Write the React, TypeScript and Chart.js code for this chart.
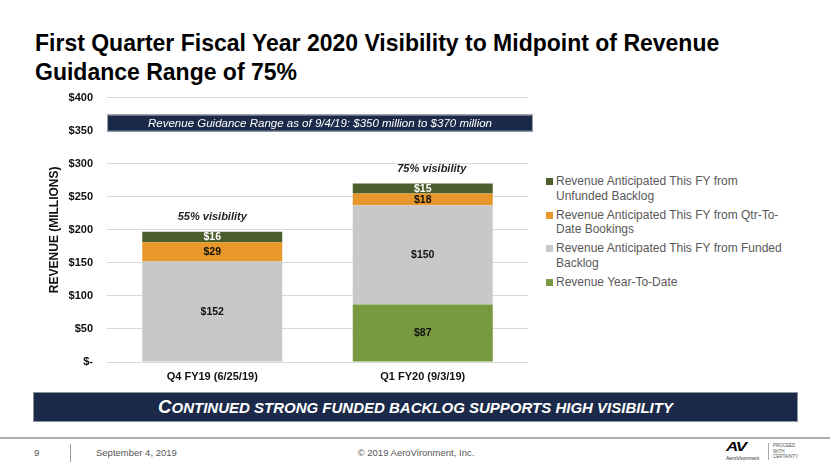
import React, { useEffect, useRef } from "react";
import { Chart, registerables } from "chart.js";

Chart.register(...registerables);

// ---------- data ----------
const categories = ["Q4 FY19 (6/25/19)", "Q1 FY20 (9/3/19)"];
const seriesNames = [
  "Revenue Year-To-Date",
  "Revenue Anticipated This FY from Funded Backlog",
  "Revenue Anticipated This FY from Qtr-To-Date Bookings",
  "Revenue Anticipated This FY from Unfunded Backlog",
];
const revenueYTD = [0, 87];
const fundedBacklog = [152, 150];
const qtrBookings = [29, 18];
const unfundedBacklog = [16, 15];
const seriesColors = ["#77993F", "#C8C8C8", "#E8972A", "#4B5E2C"];
const labelColors = ["#111111", "#111111", "#111111", "#FFFFFF"];
const visibilityLabels = ["55% visibility", "75% visibility"];
const yTickValues = [0, 50, 100, 150, 200, 250, 300, 350, 400];
const yTickLabels = ["$-", "$50", "$100", "$150", "$200", "$250", "$300", "$350", "$400"];
const yAxisTitle = "REVENUE (MILLIONS)";
const guidanceText = "Revenue Guidance Range as of 9/4/19: $350 million to $370 million";
const titleLines = ["First Quarter Fiscal Year 2020 Visibility to Midpoint of Revenue", "Guidance Range of 75%"];
const bannerText = "Continued strong funded backlog supports high visibility";
const footerPage = "9";
const footerDate = "September 4, 2019";
const footerCopyright = "© 2019 AeroVironment, Inc.";

const FONT = "'Liberation Sans', Arial, Helvetica, sans-serif";

const overlayPlugin = {
  id: "overlay",
  afterDatasetsDraw(chart: any) {
    const ctx = chart.ctx;
    const area = chart.chartArea;
    ctx.save();
    // guidance banner
    const bx = area.left;
    const bw = area.right + 5 - area.left;
    const by = area.top + 17;
    const bh = 17;
    ctx.fillStyle = "#1B2A48";
    ctx.fillRect(bx, by, bw, bh);
    ctx.strokeStyle = "#9aa0aa";
    ctx.lineWidth = 1;
    ctx.strokeRect(bx + 0.5, by + 0.5, bw - 1, bh - 1);
    ctx.fillStyle = "#FFFFFF";
    ctx.font = `italic 11.5px ${FONT}`;
    ctx.textAlign = "center";
    ctx.textBaseline = "middle";
    ctx.fillText(guidanceText, bx + bw / 2, by + bh / 2 + 0.5);

    // segment labels
    ctx.font = `bold 10.5px ${FONT}`;
    chart.data.datasets.forEach((ds: any, di: number) => {
      const meta = chart.getDatasetMeta(di);
      meta.data.forEach((el: any, i: number) => {
        const v = ds.data[i];
        if (!v) return;
        const p = el.getProps(["x", "y", "base"], true);
        ctx.fillStyle = labelColors[di];
        ctx.fillText("$" + v, p.x, (p.y + p.base) / 2 + 0.5);
      });
    });

    // visibility annotations above each stack
    const topMeta = chart.getDatasetMeta(chart.data.datasets.length - 1);
    ctx.font = `italic bold 11px ${FONT}`;
    ctx.fillStyle = "#222222";
    topMeta.data.forEach((el: any, i: number) => {
      const p = el.getProps(["x", "y"], true);
      ctx.fillText(visibilityLabels[i], p.x + (i === 1 ? 9 : 0), p.y - 15);
    });
    ctx.restore();
  },
};

function BarChart() {
  const ref = useRef<HTMLCanvasElement | null>(null);
  useEffect(() => {
    if (!ref.current) return;
    const seriesData = [revenueYTD, fundedBacklog, qtrBookings, unfundedBacklog];
    const chart = new Chart(ref.current, {
      type: "bar",
      data: {
        labels: categories,
        datasets: seriesNames.map((name, i) => ({
          label: name,
          data: seriesData[i],
          backgroundColor: seriesColors[i],
          borderWidth: 0,
          barPercentage: 0.665,
          categoryPercentage: 1,
        })),
      },
      options: {
        animation: false,
        responsive: false,
        devicePixelRatio: 1,
        layout: { padding: { top: 0, right: 17, bottom: 0, left: 0 } },
        plugins: {
          legend: { display: false },
          tooltip: { enabled: false },
        },
        scales: {
          x: {
            stacked: true,
            grid: { display: false, drawTicks: false },
            border: { display: false },
            ticks: {
              color: "#111111",
              font: { family: FONT, size: 11, weight: "bold" },
              padding: 8,
            },
            afterFit: (s: any) => {
              s.height = 25;
            },
          },
          y: {
            stacked: true,
            min: 0,
            max: 400,
            afterBuildTicks: (s: any) => {
              s.ticks = yTickValues.map((v) => ({ value: v }));
            },
            grid: { color: "#D9D9D9", lineWidth: 1, drawTicks: false },
            border: { display: false },
            ticks: {
              color: "#111111",
              font: { family: FONT, size: 11, weight: "bold" },
              padding: 14,
              callback: (_v: any, idx: number) => yTickLabels[idx],
            },
            title: {
              display: true,
              text: yAxisTitle,
              color: "#111111",
              font: { family: FONT, size: 12, weight: "bold" },
              padding: { top: 47, bottom: 0 },
            },
            afterFit: (s: any) => {
              s.width = 107;
            },
          },
        },
      },
      plugins: [overlayPlugin],
    });
    return () => chart.destroy();
  }, []);
  return (
    <canvas
      ref={ref}
      width={545}
      height={310}
      style={{ position: "absolute", left: 0, top: 77, width: 545, height: 310 }}
    />
  );
}

function Legend() {
  const order = [3, 2, 1, 0];
  return (
    <div style={{ position: "absolute", left: 546, top: 174, fontFamily: FONT }}>
      {order.map((i) => (
        <div key={i} style={{ display: "flex", alignItems: "flex-start", marginBottom: 4.7 }}>
          <div
            style={{
              width: 7,
              height: 7,
              background: seriesColors[i],
              marginTop: 4,
              marginRight: 3,
              flex: "none",
            }}
          />
          <div style={{ width: 236, fontSize: 12, lineHeight: "14.5px", color: "#595959" }}>
            {seriesNames[i]}
          </div>
        </div>
      ))}
    </div>
  );
}

function SmallCaps({ text }: { text: string }) {
  return (
    <span style={{ whiteSpace: "nowrap" }}>
      <span style={{ fontSize: 18.5 }}>{text.charAt(0).toUpperCase()}</span>
      <span style={{ fontSize: 15 }}>{text.slice(1).toUpperCase()}</span>
    </span>
  );
}

export default function App() {
  useEffect(() => {
    document.body.style.margin = "0";
  }, []);
  return (
    <div
      style={{
        position: "absolute",
        left: 0,
        top: 0,
        width: 830,
        height: 467,
        background: "#FFFFFF",
        overflow: "hidden",
        fontFamily: FONT,
      }}
    >
      <div
        style={{
          position: "absolute",
          left: 35,
          top: 28.5,
          fontSize: 23,
          lineHeight: "29px",
          fontWeight: "bold",
          color: "#000000",
          whiteSpace: "nowrap",
        }}
      >
        {titleLines.map((t, i) => (
          <div key={i}>{t}</div>
        ))}
      </div>

      <BarChart />
      <Legend />

      <div
        style={{
          position: "absolute",
          left: 33,
          top: 392,
          width: 765,
          height: 30,
          boxSizing: "border-box",
          background: "#1B2A48",
          border: "1px solid #8d939d",
          color: "#FFFFFF",
          display: "flex",
          alignItems: "center",
          justifyContent: "center",
          fontWeight: "bold",
          fontStyle: "italic",
          lineHeight: "20px",
        }}
      >
        <SmallCaps text={bannerText} />
      </div>

      <div style={{ position: "absolute", left: 0, top: 437, width: 830, height: 2, background: "#A9AEB6" }} />
      <div style={{ position: "absolute", left: 34, top: 447, fontSize: 9.5, color: "#555555" }}>{footerPage}</div>
      <div style={{ position: "absolute", left: 70, top: 444, width: 1, height: 18, background: "#9a9a9a" }} />
      <div style={{ position: "absolute", left: 96, top: 447, fontSize: 9.5, color: "#555555" }}>{footerDate}</div>
      <div
        style={{
          position: "absolute",
          left: 316,
          width: 200,
          top: 447,
          fontSize: 9.5,
          color: "#555555",
          textAlign: "center",
        }}
      >
        {footerCopyright}
      </div>

      <div
        style={{
          position: "absolute",
          left: 726,
          top: 440,
          fontSize: 13,
          fontWeight: 900,
          fontStyle: "italic",
          color: "#000",
          letterSpacing: -1,
          transform: "scaleX(1.3)",
          transformOrigin: "left top",
          lineHeight: "14px",
        }}
      >
        AV
      </div>
      <div style={{ position: "absolute", left: 726, top: 455, fontSize: 5, color: "#333", lineHeight: "6px" }}>
        AeroVironment
      </div>
      <div style={{ position: "absolute", left: 768, top: 443, width: 1, height: 17, background: "#aaa" }} />
      <div
        style={{
          position: "absolute",
          left: 773,
          top: 443,
          fontSize: 4.5,
          color: "#555",
          lineHeight: "5.5px",
        }}
      >
        <div>PROCEED</div>
        <div>WITH</div>
        <div>CERTAINTY</div>
      </div>
    </div>
  );
}
